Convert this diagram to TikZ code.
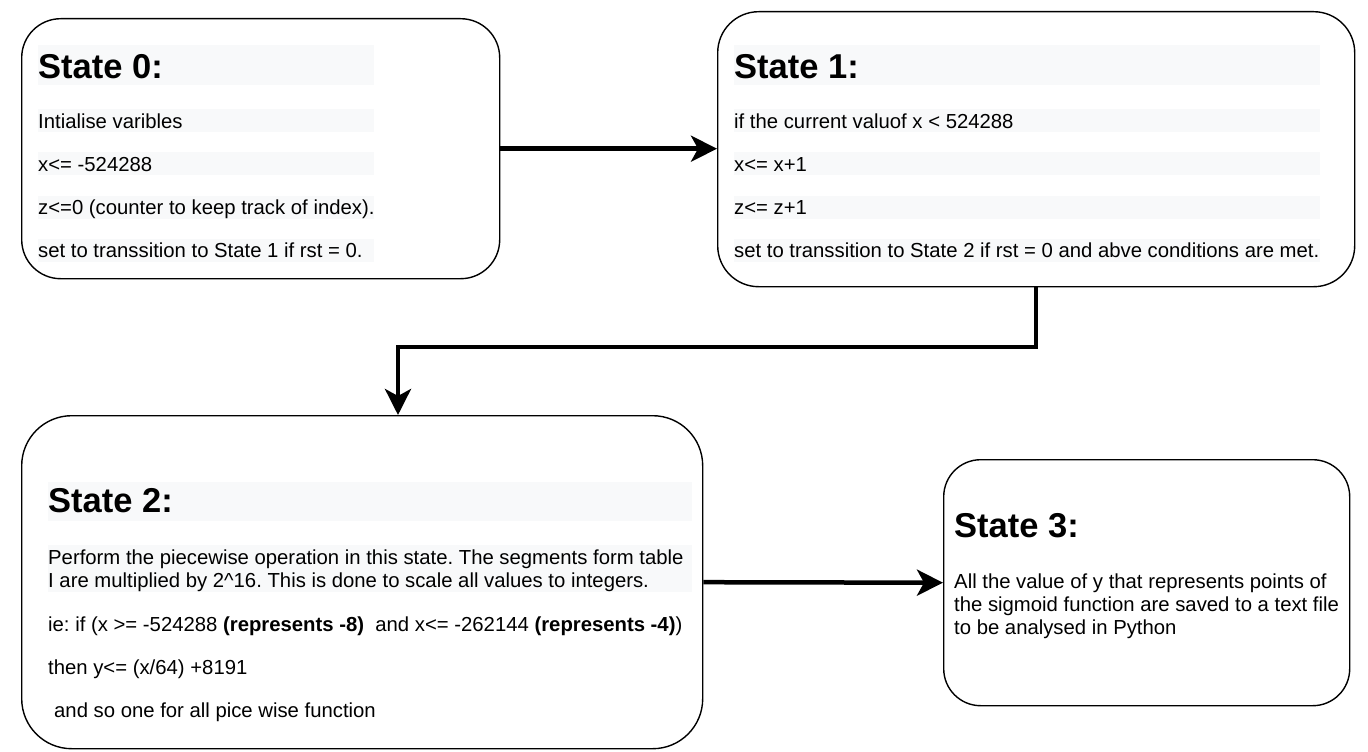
\documentclass[tikz,border=0pt]{standalone}
\usepackage{fontspec}
\setmainfont{Liberation Sans}
\usetikzlibrary{arrows.meta}
\definecolor{barcol}{HTML}{F8F9FA}
\frenchspacing
\tikzset{
  statebox/.style={draw=black, line width=1.4pt, fill=white, anchor=north west, inner sep=0pt},
  ttl/.style={anchor=base west, inner sep=0pt, font=\bfseries\fontsize{34.5}{40}\selectfont},
  txt/.style={anchor=base west, inner sep=0pt, font=\fontsize{20.3}{23}\selectfont},
  bar/.style={fill=barcol, draw=none},
  conn/.style={line width=4.5pt, -{Stealth[length=26pt, width=26pt, inset=7pt]}}
}
\begin{document}
\begin{tikzpicture}[x=1pt, y=-1pt]
\useasboundingbox (0,0) rectangle (1368,752);
% boxes
\node[statebox, minimum width=478pt, minimum height=260pt, rounded corners=39pt] (s0) at (21,18) {};
\node[statebox, minimum width=637pt, minimum height=275pt, rounded corners=41pt] (s1) at (717,11) {};
\node[statebox, minimum width=681pt, minimum height=333pt, rounded corners=50pt] (s2) at (21,415) {};
\node[statebox, minimum width=406pt, minimum height=246pt, rounded corners=37pt] (s3) at (943,459) {};
% highlight bars
\foreach \xa/\xb in {38/374, 734/1320}{
  \fill[bar] (\xa,45) rectangle (\xb,85);
  \fill[bar] (\xa,109) rectangle (\xb,132);
  \fill[bar] (\xa,152) rectangle (\xb,175);
  \fill[bar] (\xa,196) rectangle (\xb,219);
  \fill[bar] (\xa,239) rectangle (\xb,262);
}
\fill[bar] (48,482) rectangle (692,521);
\fill[bar] (48,545) rectangle (692,592);
% State 0 text
\node[ttl] (t0) at (38,78) {State 0:};
\node[txt] (t0a) at (38,128) {Intialise varibles};
\node[txt] (t0b) at (38,171) {x<= -524288};
\node[txt] (t0c) at (38,214) {z<=0 (counter to keep track of index).};
\node[txt] (t0d) at (38,257) {set to transsition to State 1 if rst = 0.};
% State 1 text
\node[ttl] (t1) at (734,78) {State 1:};
\node[txt] (t1a) at (734,128) {if the current valuof x < 524288};
\node[txt] (t1b) at (734,171) {x<= x+1};
\node[txt] (t1c) at (734,214) {z<= z+1};
\node[txt] (t1d) at (734,257) {set to transsition to State 2 if rst = 0 and abve conditions are met.};
% State 2 text
\node[ttl] (t2) at (48,512) {State 2:};
\node[txt] (t2a) at (48,564) {Perform the piecewise operation in this state. The segments form table};
\node[txt] (t2b) at (48,587) {I are multiplied by 2\textasciicircum 16. This is done to scale all values to integers.};
\node[txt] (t2c) at (48,631) {ie: if (x >= -524288 {\bfseries (represents -8)}\ \ and x<= -262144 {\bfseries (represents -4)})};
\node[txt] (t2d) at (48,674) {then y<= (x/64) +8191};
\node[txt] (t2e) at (54,717) {and so one for all pice wise function};
% State 3 text
\node[ttl] (t3) at (954,537) {State 3:};
\node[txt] (t3a) at (954,588) {All the value of y that represents points of};
\node[txt] (t3b) at (954,611) {the sigmoid function are saved to a text file};
\node[txt] (t3c) at (954,634) {to be analysed in Python};
% connectors
\coordinate (m) at (398,347);
\draw[conn] (s0.east) -- (s1.west |- s0.east);
\draw[conn] (s1.south) |- (m) -- (s2.north -| m);
\draw[conn] (s2.east) -- (s3.west);
\end{tikzpicture}
\end{document}
